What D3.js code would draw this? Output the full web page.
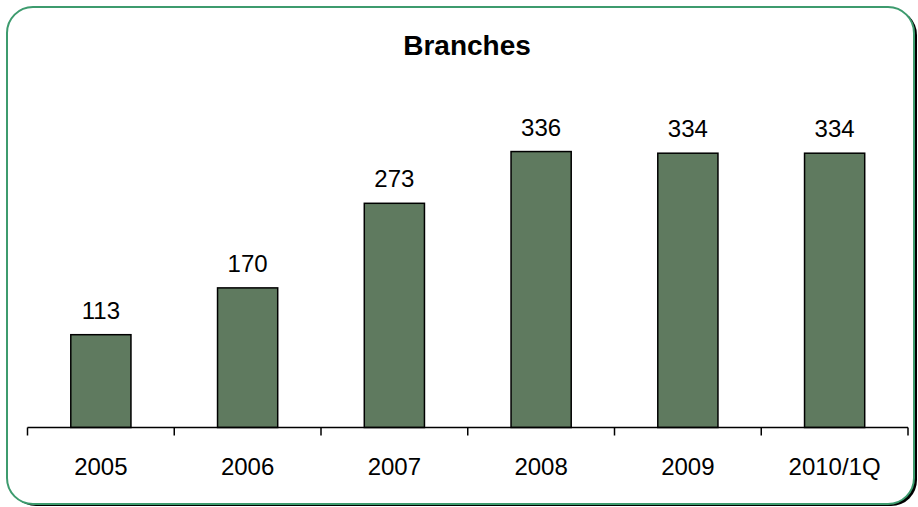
<!DOCTYPE html>
<html>
<head>
<meta charset="utf-8">
<script src="https://cdn.jsdelivr.net/npm/d3@7"></script>
<style>
  html, body { margin: 0; padding: 0; background: #ffffff; }
  svg { display: block; }
</style>
</head>
<body>
<svg id="chart" width="918" height="507"></svg>
<script>
// Branch counts per year
const categories = ["2005", "2006", "2007", "2008", "2009", "2010/1Q"];
const branches = [113, 170, 273, 336, 334, 334];
const title = "Branches";

const W = 918, H = 507;
const svg = d3.select("#chart");

// Rounded frame with a dark drop shadow
svg.append("rect")
  .attr("x", 10).attr("y", 9)
  .attr("width", 907).attr("height", 497)
  .attr("rx", 26).attr("ry", 26)
  .attr("fill", "#000000");
svg.append("rect")
  .attr("x", 7).attr("y", 7)
  .attr("width", 907).attr("height", 497)
  .attr("rx", 26).attr("ry", 26)
  .attr("fill", "#ffffff")
  .attr("stroke", "#3d9b6e")
  .attr("stroke-width", 2);

// Scales
const x = d3.scaleBand()
  .domain(categories)
  .range([27.5, 908])
  .paddingInner(0).paddingOuter(0);

const y = d3.scaleLinear()
  .domain([0, 400])
  .range([427.5, 99]);

const barRatio = 0.41;
const bw = x.bandwidth() * barRatio;

// Bars
svg.append("g").selectAll("rect")
  .data(branches)
  .join("rect")
  .attr("x", (d, i) => x(categories[i]) + (x.bandwidth() - bw) / 2)
  .attr("y", d => y(d))
  .attr("width", bw)
  .attr("height", d => y(0) - y(d))
  .attr("fill", "#5f7a5f")
  .attr("stroke", "#000000")
  .attr("stroke-width", 1.5);

// Value labels
svg.append("g").selectAll("text")
  .data(branches)
  .join("text")
  .attr("x", (d, i) => x(categories[i]) + x.bandwidth() / 2)
  .attr("y", d => y(d) - 16)
  .attr("text-anchor", "middle")
  .attr("font-family", "Liberation Sans, Arial, sans-serif")
  .attr("font-size", 24)
  .attr("fill", "#000000")
  .text(d => d);

// Category axis: baseline with ticks at band boundaries
const axisG = svg.append("g");
axisG.append("line")
  .attr("x1", x.range()[0]).attr("x2", x.range()[1])
  .attr("y1", y(0)).attr("y2", y(0))
  .attr("stroke", "#000").attr("stroke-width", 1.5);

const boundaries = categories.map(c => x(c)).concat([x.range()[1]]);
axisG.selectAll("line.tick")
  .data(boundaries)
  .join("line")
  .attr("class", "tick")
  .attr("x1", d => d).attr("x2", d => d)
  .attr("y1", y(0)).attr("y2", y(0) + 8)
  .attr("stroke", "#000").attr("stroke-width", 1.5);

axisG.selectAll("text")
  .data(categories)
  .join("text")
  .attr("x", d => x(d) + x.bandwidth() / 2)
  .attr("y", 475)
  .attr("text-anchor", "middle")
  .attr("font-family", "Liberation Sans, Arial, sans-serif")
  .attr("font-size", 24)
  .attr("fill", "#000")
  .text(d => d);

// Title
svg.append("text")
  .attr("x", 467)
  .attr("y", 55)
  .attr("text-anchor", "middle")
  .attr("font-family", "Liberation Sans, Arial, sans-serif")
  .attr("font-weight", "bold")
  .attr("font-size", 28)
  .attr("fill", "#000")
  .text(title);
</script>
</body>
</html>
